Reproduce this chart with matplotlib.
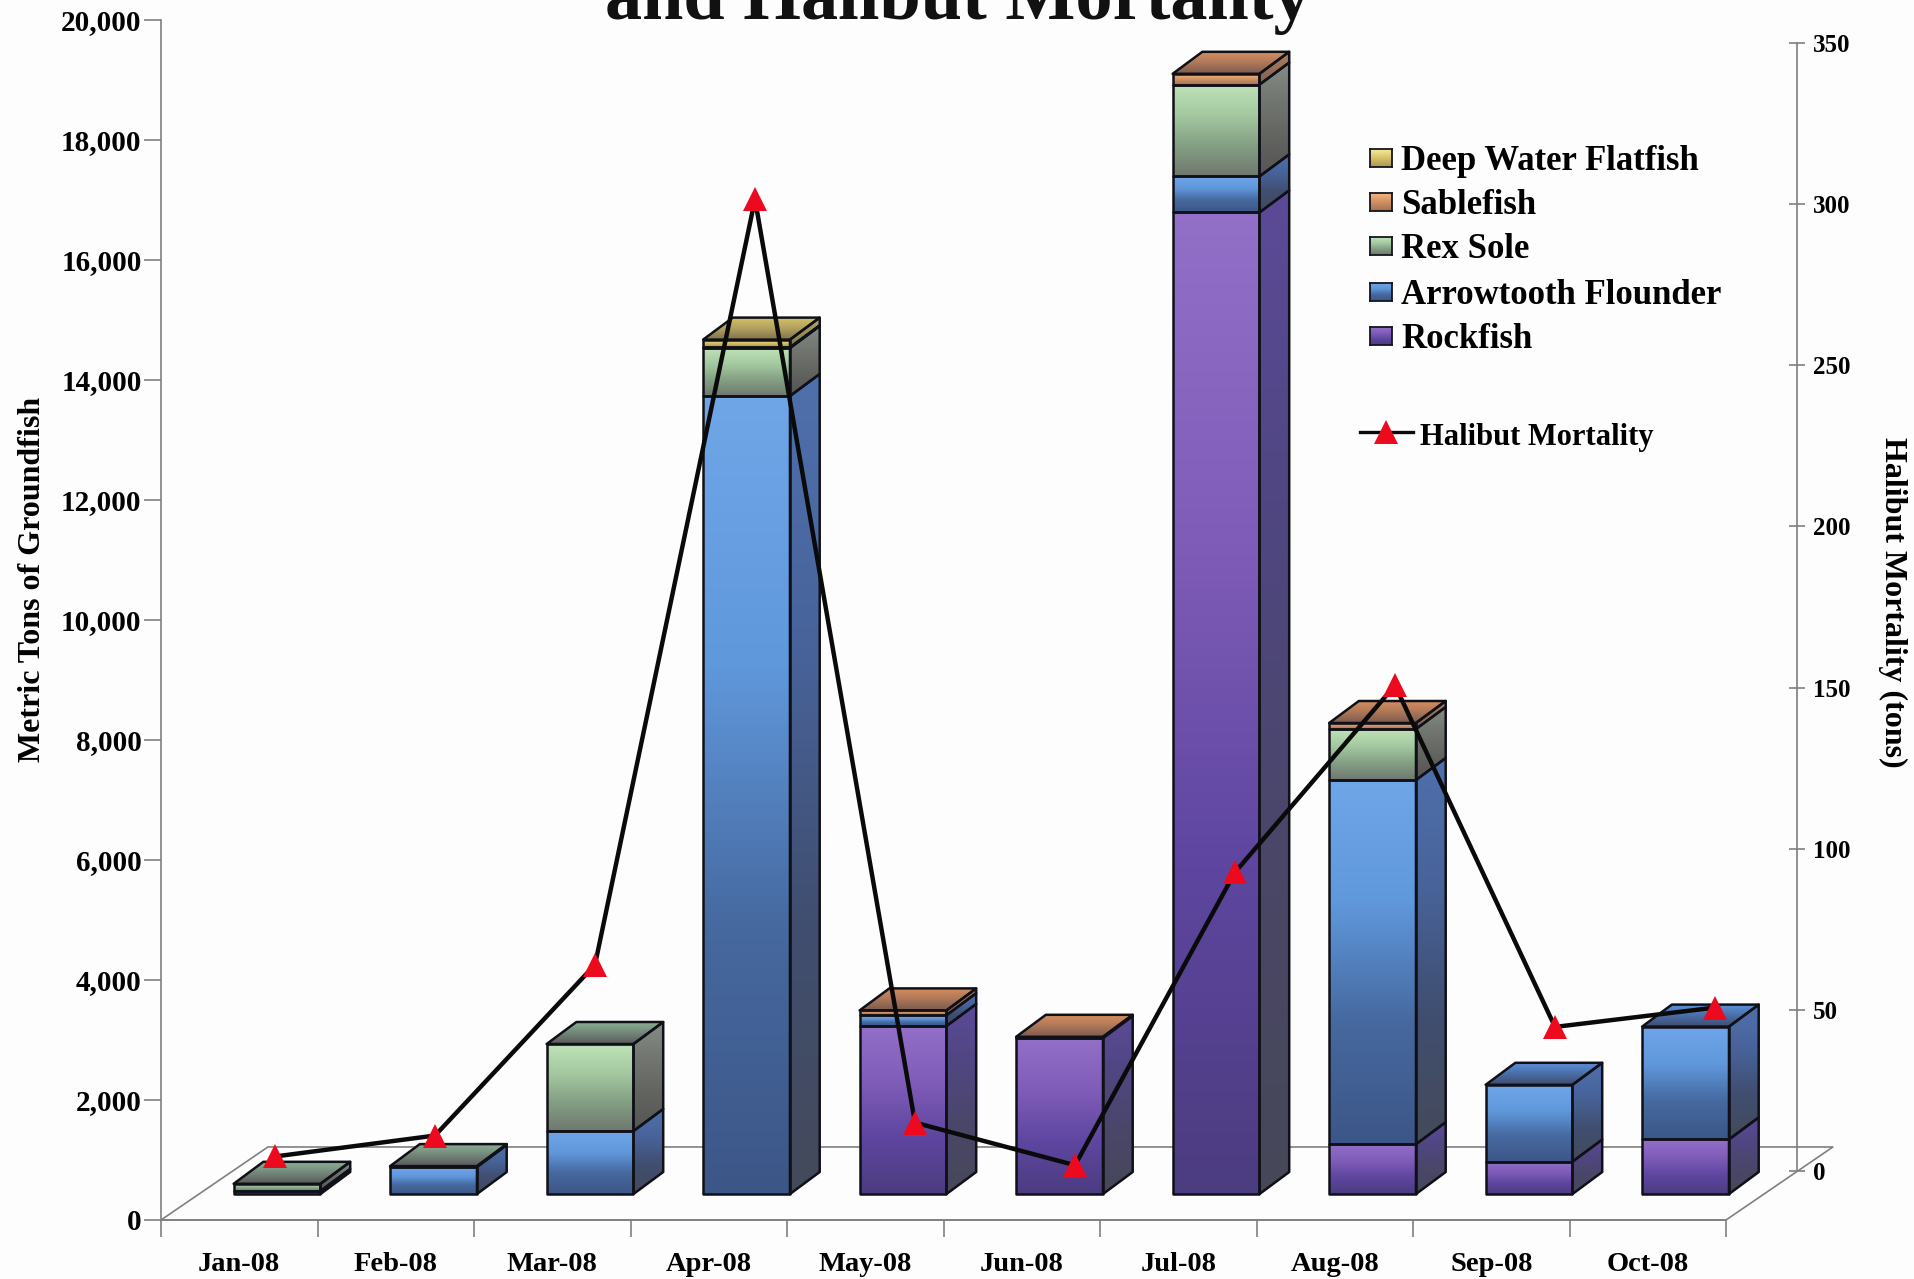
import numpy as np
import matplotlib
matplotlib.use("Agg")
import matplotlib.pyplot as plt
from matplotlib.colors import LinearSegmentedColormap
from matplotlib.patches import Polygon

plt.rcParams['font.family'] = ['Liberation Serif', 'DejaVu Serif']
plt.rcParams['font.weight'] = 'bold'

## Data
months = ["Jan-08", "Feb-08", "Mar-08", "Apr-08", "May-08",
          "Jun-08", "Jul-08", "Aug-08", "Sep-08", "Oct-08"]
rockfish = [0, 0, 0, 0, 2800, 2600, 16360, 830, 540, 910]
arrowtooth = [50, 450, 1050, 13300, 180, 0, 600, 6070, 1280, 1880]
rex_sole = [120, 15, 1450, 800, 0, 0, 1530, 850, 0, 0]
sablefish = [0, 0, 0, 10, 80, 20, 180, 100, 0, 0]
deep_water = [0, 0, 0, 130, 0, 0, 0, 0, 0, 0]
halibut = [4.5, 11, 64, 301.5, 15, 1.8, 92.7, 150.7, 44.7, 50.7]

series_names = ["Rockfish", "Arrowtooth Flounder", "Rex Sole", "Sablefish", "Deep Water Flatfish"]
series_vals = [rockfish, arrowtooth, rex_sole, sablefish, deep_water]
legend_y = [336, 292, 246, 202, 158]

# gradients, top of the face first
front_cols = [["#9270c8", "#7f5cb8", "#5e46a0", "#4c3c80"],
              ["#6ea6e8", "#6098dc", "#46699f", "#3d5688"],
              ["#bfe2b8", "#a4c8a0", "#84a084", "#70786e"],
              ["#f0b884", "#dd9c68", "#c08660", "#a87050"],
              ["#f4ea9c", "#e4d074", "#c8b460", "#a89850"]]
side_cols = [["#5c4a98", "#4f4680", "#4a4668", "#464858"],
             ["#4f70ac", "#48639a", "#404e70", "#444a5a"],
             ["#888c86", "#727670", "#626460", "#555555"],
             ["#b08468", "#a07458", "#906858", "#806050"],
             ["#b8b070", "#a09858", "#908850", "#807848"]]
top_cols = [["#8a68c8", "#6a5498", "#504868"],
            ["#5c94dc", "#4a6ea8", "#3f4c6c"],
            ["#8cb494", "#74887c", "#5a5a58"],
            ["#d89060", "#b07858", "#7a5c50"],
            ["#d4c468", "#b0a060", "#807048"]]

W, H = 1915, 1279
AX_L, AX_R, AX_B, AX_T = 161, 1726, 1220, 20      # main axes, pixels
R_AX, R_B, R_T = 1797, 1171, 43                   # right axis, pixels
LINE_X0, LINE_STEP = 275, 160                     # line points, pixels

# 3d look, in data units
BAR_LEFT = 0.464
BAR_W = 0.555
DEPTH_X = 0.19
DEPTH_Y = 367
BASE_Y = 433
FLOOR_X = 0.683
FLOOR_Y = 1217


def px_rect(x0, y0, x1, y1):
    return [x0 / W, 1 - y1 / H, (x1 - x0) / W, (y1 - y0) / H]


def gradient_face(ax, pts, cols, edge="#101018", lw=1.8, z=2):
    cmap = LinearSegmentedColormap.from_list("g", cols)
    pts = np.array(pts)
    x0, x1 = pts[:, 0].min(), pts[:, 0].max()
    y0, y1 = pts[:, 1].min(), pts[:, 1].max()
    grad = np.linspace(0, 1, 128).reshape(-1, 1)
    im = ax.imshow(grad, cmap=cmap, extent=[x0, x1, y0, y1], origin="upper",
                   aspect="auto", zorder=z, interpolation="bilinear")
    poly = Polygon(pts, closed=True, facecolor="none", edgecolor=edge, lw=lw,
                   zorder=z + 0.1, clip_on=False, joinstyle="round")
    ax.add_patch(poly)
    im.set_clip_path(poly)
    im.set_clip_box(ax.figure.bbox)


fig = plt.figure(figsize=(W / 100, H / 100), dpi=100, facecolor="#fdfdfd")
ax = fig.add_axes(px_rect(AX_L, AX_T, AX_R, AX_B))
ax.set_autoscale_on(False)
ax.set_xlim(0, len(months))
ax.set_ylim(0, 20000)
ax.patch.set_alpha(0)

# floor
gray = "#808080"
ax.plot([0, len(months), len(months) + FLOOR_X, FLOOR_X, 0],
        [0, 0, FLOOR_Y, FLOOR_Y, 0], color=gray, lw=1.2, clip_on=False, zorder=1)

# stacked 3d bars
for i in range(len(months)):
    xl = i + BAR_LEFT
    xr = xl + BAR_W
    bottom = BASE_Y
    top_series = 0
    for s, vals in enumerate(series_vals):
        v = vals[i]
        if v <= 0:
            continue
        top = bottom + v
        gradient_face(ax, [(xr, bottom), (xr + DEPTH_X, bottom + DEPTH_Y),
                           (xr + DEPTH_X, top + DEPTH_Y), (xr, top)], side_cols[s])
        gradient_face(ax, [(xl, bottom), (xr, bottom), (xr, top), (xl, top)], front_cols[s])
        bottom = top
        top_series = s
    gradient_face(ax, [(xl, bottom), (xr, bottom), (xr + DEPTH_X, bottom + DEPTH_Y),
                       (xl + DEPTH_X, bottom + DEPTH_Y)], top_cols[top_series])

ax.set_xlim(0, len(months))
ax.set_ylim(0, 20000)

# left axis and months
for name in ["top", "right"]:
    ax.spines[name].set_visible(False)
for name in ["left", "bottom"]:
    ax.spines[name].set_color(gray)
    ax.spines[name].set_linewidth(1.2)
ax.set_yticks(np.arange(0, 20001, 2000))
ax.set_yticklabels([f"{v:,}" for v in range(0, 20001, 2000)], fontsize=21)
ax.tick_params(axis="y", length=12, width=1.2, color=gray, pad=2)
ax.set_xticks(np.arange(0, len(months) + 1))
ax.set_xticklabels([])
ax.tick_params(axis="x", which="major", length=12.5, width=1.2, color=gray)
ax.set_xticks(np.arange(len(months)) + 0.5, minor=True)
ax.set_xticklabels(months, minor=True, fontsize=20.5)
ax.tick_params(axis="x", which="minor", length=0, pad=23)
ax.set_ylabel("Metric Tons of Groundfish", fontsize=23, fontweight="bold", va="center")
ax.yaxis.set_label_coords(-0.082, 0.534)

# right axis with the halibut line
ax2 = fig.add_axes(px_rect(AX_L, R_T, R_AX, R_B))
ax2.patch.set_alpha(0)
ax2.set_xlim((AX_L - LINE_X0) / LINE_STEP, (R_AX - LINE_X0) / LINE_STEP)
ax2.set_ylim(0, 350)
for name in ["top", "left", "bottom"]:
    ax2.spines[name].set_visible(False)
ax2.spines["right"].set_color(gray)
ax2.spines["right"].set_linewidth(1.2)
ax2.set_xticks([])
ax2.yaxis.tick_right()
ax2.set_yticks(np.arange(0, 351, 50))
ax2.tick_params(axis="y", direction="inout", length=11, width=1.2, color=gray, labelsize=18, pad=6)
ax2.set_ylabel("Halibut Mortality (tons)", fontsize=23, fontweight="bold", rotation=270, va="center")
ax2.yaxis.set_label_position("right")
ax2.yaxis.set_label_coords(1.0675, 0.504)
ax2.plot(np.arange(len(months)), halibut, color="#0a0a0a", lw=3.2, marker="^", ms=17,
         mfc="#ee0a1e", mec="#ee0a1e", mew=0, clip_on=False, zorder=6)

# title, first line runs off the page
fig.text(958 / W, 1 - 19 / H, "and Halibut Mortality", fontsize=53.5, fontweight="bold",
         ha="center", va="baseline", color="#111111")

# legend
for s, name in enumerate(series_names):
    y = legend_y[s]
    sw = fig.add_axes(px_rect(1370, y - 9, 1392, y + 9))
    sw.imshow(np.linspace(0, 1, 32).reshape(-1, 1), aspect="auto",
              cmap=LinearSegmentedColormap.from_list("l", front_cols[s]))
    sw.set_xticks([])
    sw.set_yticks([])
    for sp in sw.spines.values():
        sp.set_color("#15151f")
        sp.set_linewidth(1.3)
    fig.text(1401 / W, 1 - y / H, name, fontsize=25, fontweight="bold", ha="left", va="center_baseline")

fig.add_artist(plt.Line2D([1360 / W, 1413 / W], [1 - 432 / H] * 2, color="#0a0a0a", lw=2.4))
fig.add_artist(plt.Line2D([1386 / W], [1 - 432 / H], marker="^", ms=17, mfc="#ee0a1e", mec="#ee0a1e", mew=0))
fig.text(1420 / W, 1 - 434 / H, "Halibut Mortality", fontsize=22, fontweight="bold", ha="left", va="center_baseline")

fig.savefig("out.png", dpi=100, facecolor=fig.get_facecolor())
